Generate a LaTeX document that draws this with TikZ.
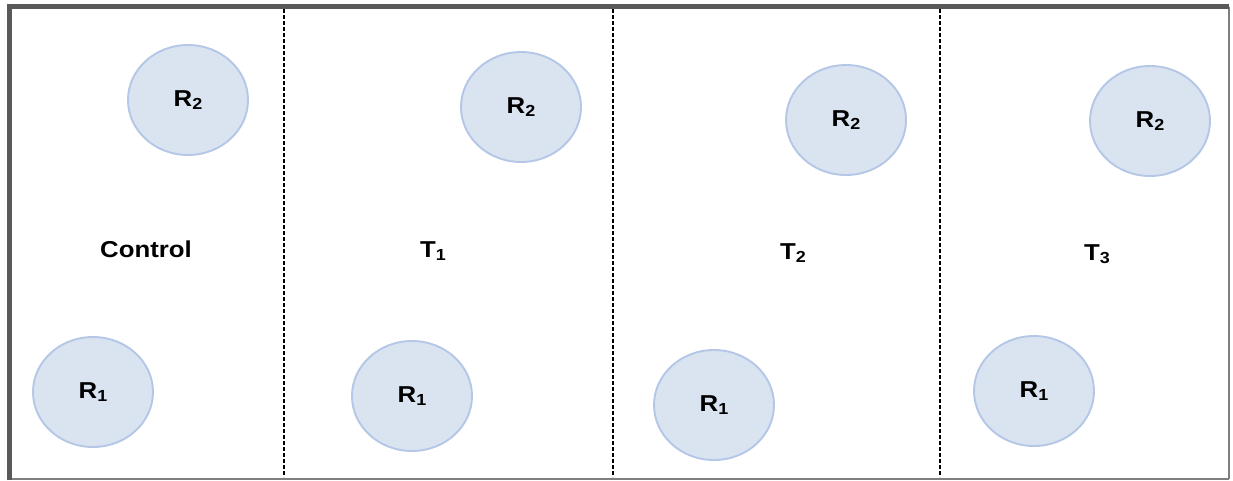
\documentclass[tikz,border=0pt]{standalone}
\usepackage{fontspec}
\setmainfont{Liberation Sans}
\usetikzlibrary{shapes.geometric}
\definecolor{ellfill}{HTML}{DAE3F0}
\definecolor{elldraw}{HTML}{B4C7E7}
\definecolor{frame}{HTML}{595959}
\definecolor{framethin}{HTML}{7F7F7F}
\newcommand{\lbl}[1]{\scalebox{1.12}[1]{\fontsize{23}{25}\selectfont\bfseries #1}}
\newcommand{\sbs}[1]{\raisebox{-0.28ex}{\fontsize{16}{16}\selectfont #1}}
\begin{document}
\begin{tikzpicture}[x=1pt,y=-1pt,
  room/.style={ellipse,draw=elldraw,fill=ellfill,line width=1.9pt,minimum width=120pt,minimum height=110pt,inner sep=0pt},
  divider/.style={line width=1.6pt,dash pattern=on 4pt off 2pt},
  lab/.style={inner sep=0pt,text=black}]
\useasboundingbox (0,0) rectangle (1233,480);
\fill[white] (0,0) rectangle (1233,480);
% frame
\coordinate (tl) at (7,6.5);
\coordinate (tr) at (1229,6.5);
\coordinate (bl) at (9.5,478.5);
\coordinate (br) at (1229,478.5);
\draw[framethin,line width=1.6pt] (tr) -- (br);
\draw[framethin,line width=2pt] (bl) -- (br);
\draw[frame,line width=4.5pt] (9.5,480) -- (9.5,6.5) -- (tr);
% dividers
\foreach \x/\n in {284/a,613/b,940/c}{
  \coordinate (\n top) at (\x,9);
  \coordinate (\n bot) at (\x,477);
  \draw[divider] (\n top) -- (\n bot);
}
% ellipses
\node[room] (c2) at (188,100) {\lbl{R\sbs{2}}};
\node[room] (c1) at (93,392) {\lbl{R\sbs{1}}};
\node[room] (a2) at (521,107) {\lbl{R\sbs{2}}};
\node[room] (a1) at (412,396) {\lbl{R\sbs{1}}};
\node[room] (b2) at (846,120) {\lbl{R\sbs{2}}};
\node[room] (b1) at (714,405) {\lbl{R\sbs{1}}};
\node[room] (d2) at (1150,121) {\lbl{R\sbs{2}}};
\node[room] (d1) at (1034,391) {\lbl{R\sbs{1}}};
% labels
\node[lab] (lc) at (146,249) {\lbl{Control}};
\node[lab] (l1) at (433,251) {\lbl{T\sbs{1}}};
\node[lab] (l2) at (793,253) {\lbl{T\sbs{2}}};
\node[lab] (l3) at (1097,254) {\lbl{T\sbs{3}}};
\end{tikzpicture}
\end{document}
